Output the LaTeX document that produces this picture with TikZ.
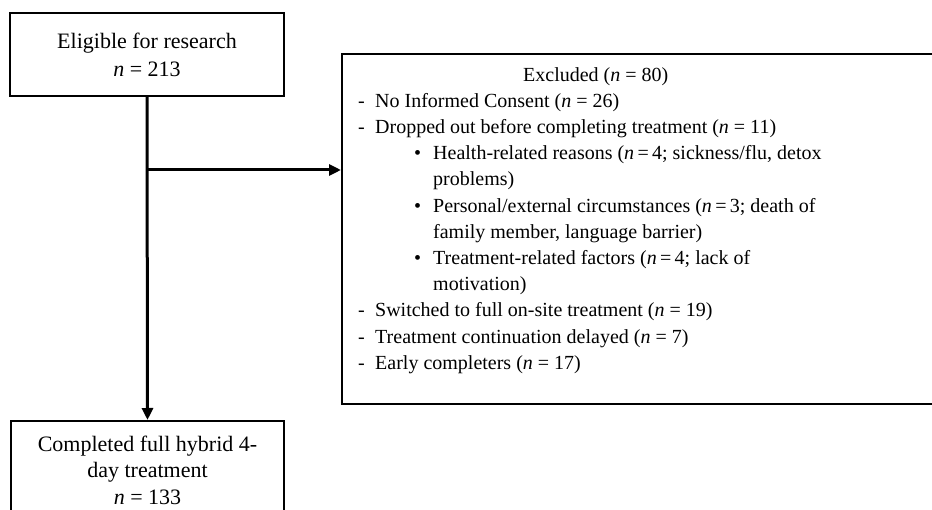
\documentclass[tikz,border=0pt]{standalone}
\usepackage{fontspec}
\setmainfont{Liberation Serif}
\usetikzlibrary{arrows.meta,calc}

\begin{document}
\begin{tikzpicture}[x=1pt, y=-1pt,
    box/.style = {draw, line width=2.2pt, rectangle, align=center, font=\fontsize{22}{28}\selectfont},
    flow/.style = {line width=3pt, -{Triangle[length=12pt,width=11pt]}}]
      \useasboundingbox (0,0) rectangle (932,510);
      \node[box, minimum width=274, minimum height=83] (elig) at (147,54.5) {Eligible for research\\ \textit{n} = 213};
      \node[box, minimum width=273, minimum height=98, anchor=north, font=\fontsize{22}{26.5}\selectfont] (compl) at (147.5,420) {Completed full hybrid 4-\\ day treatment\\ \textit{n} = 133};
      \node[box, minimum width=620, minimum height=350, anchor=north west] (excl) at (341,53) {};
      \node[anchor=north west, inner sep=0pt, align=left, font=\fontsize{20}{26.2}\selectfont] (exlist) at (358,67) {%
        \hspace*{165pt}Excluded (\textit{n} = 80)\\
        \makebox[17pt][l]{-}No Informed Consent (\textit{n} = 26)\\
        \makebox[17pt][l]{-}Dropped out before completing treatment (\textit{n} = 11)\\
        \hspace*{56pt}\makebox[19pt][l]{\textbullet}Health-related reasons (\textit{n}\,=\,4; sickness/flu, detox\\
        \hspace*{75pt}problems)\\
        \hspace*{56pt}\makebox[19pt][l]{\textbullet}Personal/external circumstances (\textit{n}\,=\,3; death of\\
        \hspace*{75pt}family member, language barrier)\\
        \hspace*{56pt}\makebox[19pt][l]{\textbullet}Treatment-related factors (\textit{n}\,=\,4; lack of\\
        \hspace*{75pt}motivation)\\
        \makebox[17pt][l]{-}Switched to full on-site treatment (\textit{n} = 19)\\
        \makebox[17pt][l]{-}Treatment continuation delayed (\textit{n} = 7)\\
        \makebox[17pt][l]{-}Early completers (\textit{n} = 17)};

      \coordinate (split) at (elig.south |- 0,170);
      \draw[flow] (elig.south) -- (compl.north);
      \draw[flow] (split) -- (split -| excl.west);
\end{tikzpicture}
\end{document}
